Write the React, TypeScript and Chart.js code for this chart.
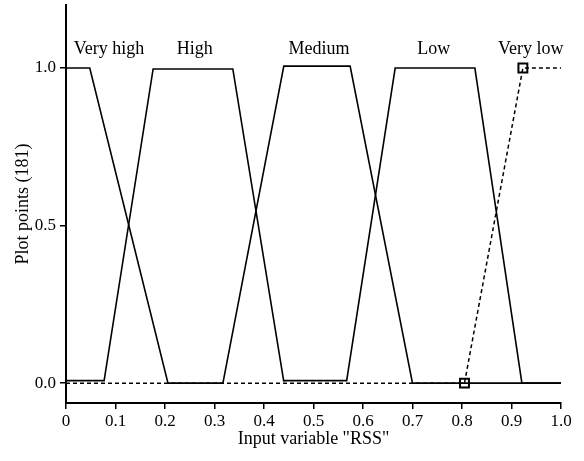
import React, { useEffect, useRef } from "react";
import { Chart, registerables } from "chart.js";

Chart.register(...registerables);

// Membership functions (x, membership)
const veryHighX = [0, 0.048, 0.206, 0.317];
const veryHighY = [1, 1, 0, 0];
const highX = [0, 0.077, 0.176, 0.337, 0.44];
const highY = [0.008, 0.008, 0.997, 0.997, 0.005];
const mediumX = [0.317, 0.44, 0.574, 0.7, 1.0];
const mediumY = [0, 1.006, 1.006, 0, 0];
const lowX = [0.44, 0.567, 0.665, 0.826, 0.921, 1.0];
const lowY = [0.008, 0.008, 1, 1, 0, 0];
const veryLowX = [0, 0.805, 0.923, 1.0];
const veryLowY = [0, 0, 1, 1];
const veryLowMarkers = [0, 1, 1, 0];

const setLabels = ["Very high", "High", "Medium", "Low", "Very low"];
const setLabelX = [0.087, 0.26, 0.511, 0.743, 0.939];
const setLabelY = 1.06;

const yTicks = [0, 0.5, 1.0];
const xTicks = [0, 0.1, 0.2, 0.3, 0.4, 0.5, 0.6, 0.7, 0.8, 0.9, 1.0];

const FONT = "'Liberation Serif', 'Times New Roman', serif";

function pts(xs: number[], ys: number[]) {
  return xs.map((x, i) => ({ x, y: ys[i] }));
}

const labelPlugin = {
  id: "setLabels",
  afterDatasetsDraw(chart: any) {
    const { ctx, scales } = chart;
    ctx.save();
    ctx.fillStyle = "#000";
    ctx.font = `18px ${FONT}`;
    ctx.textAlign = "center";
    ctx.textBaseline = "middle";
    setLabels.forEach((t, i) => {
      ctx.fillText(
        t,
        scales.x.getPixelForValue(setLabelX[i]),
        scales.y.getPixelForValue(setLabelY)
      );
    });
    ctx.restore();
  },
};

export default function App() {
  const ref = useRef<HTMLCanvasElement>(null);
  useEffect(() => {
    document.body.style.margin = "0";
    const solid = (data: any) => ({
      data,
      borderColor: "#000",
      borderWidth: 1.6,
      pointRadius: 0,
      fill: false,
      tension: 0,
    });
    const chart = new Chart(ref.current!, {
      type: "line",
      data: {
        datasets: [
          {
            data: pts(veryLowX, veryLowY),
            borderColor: "#000",
            borderWidth: 1.5,
            borderDash: [4, 3],
            pointStyle: "rect",
            pointRadius: veryLowMarkers.map((m) => (m ? 6.3 : 0)),
            pointBorderColor: "#000",
            pointBackgroundColor: "rgba(255,255,255,0)",
            pointBorderWidth: 2,
            fill: false,
            tension: 0,
          },
          solid(pts(veryHighX, veryHighY)),
          solid(pts(highX, highY)),
          solid(pts(mediumX, mediumY)),
          solid(pts(lowX, lowY)),
        ],
      },
      options: {
        animation: false,
        responsive: false,
        layout: { padding: { left: 0, right: 23, top: 5, bottom: 0 } },
        plugins: { legend: { display: false }, tooltip: { enabled: false } },
        scales: {
          x: {
            type: "linear",
            min: 0,
            max: 1,
            afterFit: (s: any) => {
              s.height = 58;
              s.paddingLeft = 0;
              s.paddingRight = 0;
            },
            afterBuildTicks: (s: any) => {
              s.ticks = xTicks.map((v) => ({ value: v }));
            },
            ticks: {
              color: "#000",
              font: { family: FONT, size: 17 },
              padding: 2,
              maxRotation: 0,
              autoSkip: false,
              callback: (v: any) => (v === 0 ? "0" : Number(v).toFixed(1)),
            },
            grid: {
              display: true,
              drawOnChartArea: false,
              drawTicks: true,
              tickLength: 6,
              color: "#000",
              lineWidth: 1.5,
            },
            border: { display: true, color: "#000", width: 2 },
            title: {
              display: true,
              text: 'Input variable "RSS"',
              color: "#000",
              font: { family: FONT, size: 18 },
              padding: { top: 0, bottom: 11 },
            },
          },
          y: {
            type: "linear",
            min: -0.063,
            max: 1.2,
            afterFit: (s: any) => {
              s.width = 66;
              s.paddingTop = 0;
              s.paddingBottom = 0;
            },
            afterBuildTicks: (s: any) => {
              s.ticks = yTicks.map((v) => ({ value: v }));
            },
            ticks: {
              color: "#000",
              font: { family: FONT, size: 17 },
              padding: 4,
              callback: (v: any) => Number(v).toFixed(1),
            },
            grid: {
              display: true,
              drawOnChartArea: false,
              drawTicks: true,
              tickLength: 6,
              color: "#000",
              lineWidth: 1.5,
            },
            border: { display: true, color: "#000", width: 2 },
            title: {
              display: true,
              text: "Plot points (181)",
              color: "#000",
              font: { family: FONT, size: 18 },
              padding: { top: 12, bottom: 0 },
            },
          },
        },
      },
      plugins: [labelPlugin],
    });
    return () => chart.destroy();
  }, []);
  return (
    <div style={{ position: "fixed", left: 0, top: 0, width: 584, height: 461, background: "#fff" }}>
      <canvas ref={ref} width={584} height={461} />
    </div>
  );
}
